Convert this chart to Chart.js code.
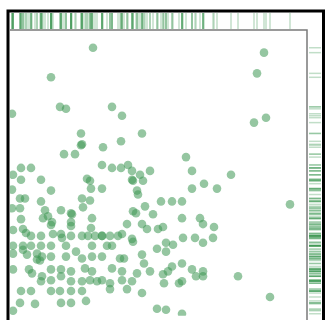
<!DOCTYPE html>
<html>
<head>
<meta charset="utf-8">
<script src="https://cdn.jsdelivr.net/npm/chart.js@4/dist/chart.umd.min.js"></script>
<style>
  html, body { margin: 0; padding: 0; background: #ffffff; overflow: hidden; }
  #c { display: block; }
</style>
</head>
<body>
<canvas id="c" width="328" height="320"></canvas>
<script>
// Sample positions (horizontal values)
const xValues = [
  83, 41, 50, 56, 2, 102, 112, 132, 71, 71, 72, 93, 111, 54, 65, 254, 247, 256, 244, 176,
  11, 21, 92, 102, 111, 118, 122, 130, 140, 3, 11, 31, 77, 80, 122, 123, 133, 2, 41, 81,
  92, 127, 128, 10, 15, 31, 72, 80, 73, 2, 10, 35, 51, 61, 62, 123, 126, 135, 143, 151,
  11, 33, 38, 42, 61, 82, 117, 132, 137, 148, 3, 13, 16, 41, 43, 51, 61, 61, 81, 92,
  21, 31, 52, 72, 78, 85, 92, 100, 108, 112, 122, 123, 3, 13, 21, 31, 41, 56, 82, 97,
  102, 147, 3, 13, 17, 27, 32, 27, 30, 41, 56, 66, 72, 82, 92, 110, 114, 132, 134, 3,
  19, 22, 32, 31, 41, 51, 51, 61, 75, 82, 87, 102, 112, 127, 140, 153, 41, 61, 72, 80,
  92, 100, 112, 122, 11, 21, 41, 50, 61, 72, 100, 117, 132, 10, 25, 51, 61, 76, 3, 147,
  182, 221, 194, 207, 172, 182, 162, 280, 172, 190, 193, 204, 153, 173, 185, 193, 203, 156, 163, 156,
  172, 162, 158, 182, 193, 186, 193, 228, 172, 169, 154, 260, 156, 172
];
// Sample positions (vertical values)
const yValues = [
  272, 242, 212, 210, 205, 212, 203, 185, 185, 173, 174, 171, 177, 164, 164, 267, 246, 201, 196, 161,
  150, 150, 153, 150, 150, 153, 147, 143, 147, 143, 138, 138, 139, 137, 138, 137, 137, 128, 127, 129,
  129, 127, 123, 119, 119, 116, 119, 117, 110, 109, 109, 107, 107, 104, 103, 106, 104, 111, 103, 116,
  98, 99, 101, 95, 95, 99, 93, 93, 88, 88, 87, 88, 84, 92, 83, 83, 91, 81, 89, 81,
  81, 81, 79, 81, 81, 81, 81, 81, 81, 83, 78, 75, 71, 71, 71, 71, 71, 71, 71, 71,
  71, 68, 63, 67, 62, 63, 60, 57, 56, 60, 60, 65, 58, 60, 60, 58, 58, 62, 53, 47,
  47, 43, 40, 35, 47, 47, 40, 45, 48, 45, 35, 48, 45, 43, 45, 42, 36, 35, 35, 36,
  36, 33, 36, 35, 25, 25, 25, 25, 25, 25, 27, 27, 23, 13, 12, 13, 13, 15, 5, 7,
  147, 143, 134, 129, 116, 129, 116, 113, 99, 99, 93, 90, 90, 79, 79, 74, 79, 74, 72, 65,
  53, 50, 45, 47, 45, 40, 40, 40, 35, 33, 33, 19, 6, 2
];

const pointColor = 'rgba(62, 152, 84, 0.55)';
const rugColor = 'rgba(62, 152, 84, 0.32)';

const points = xValues.map((x, i) => ({ x: x, y: yValues[i] }));

// Marginal rugs along the top and right edges plus the frame lines
const rugAndFrame = {
  id: 'rugAndFrame',
  afterDraw(chart) {
    const ctx = chart.ctx;
    const xs = chart.scales.x;
    const ys = chart.scales.y;
    const area = chart.chartArea;
    ctx.save();

    // top rug: one tick per horizontal value
    ctx.strokeStyle = rugColor;
    ctx.lineWidth = 1.5;
    xValues.forEach(v => {
      const px = xs.getPixelForValue(v);
      ctx.beginPath();
      ctx.moveTo(px, 13);
      ctx.lineTo(px, 29);
      ctx.stroke();
    });

    // right rug: one tick per vertical value
    yValues.forEach(v => {
      const py = ys.getPixelForValue(v);
      ctx.beginPath();
      ctx.moveTo(area.right + 2, py);
      ctx.lineTo(area.right + 14, py);
      ctx.stroke();
    });

    // inner plot border (top and right)
    ctx.strokeStyle = '#7a7a7a';
    ctx.lineWidth = 1.5;
    ctx.beginPath();
    ctx.moveTo(area.left, area.top);
    ctx.lineTo(area.right, area.top);
    ctx.lineTo(area.right, chart.height + 5);
    ctx.stroke();

    // outer frame
    ctx.strokeStyle = '#000000';
    ctx.lineWidth = 3;
    ctx.beginPath();
    ctx.moveTo(8, chart.height + 5);
    ctx.lineTo(8, 11);
    ctx.lineTo(323.5, 11);
    ctx.lineTo(323.5, chart.height + 5);
    ctx.stroke();

    ctx.restore();
  }
};

new Chart(document.getElementById('c'), {
  type: 'scatter',
  data: {
    datasets: [{
      data: points,
      backgroundColor: pointColor,
      borderWidth: 0,
      pointRadius: 4.3,
      pointHoverRadius: 4.3
    }]
  },
  options: {
    responsive: false,
    animation: false,
    devicePixelRatio: 1,
    layout: { padding: { left: 10, top: 30, right: 21, bottom: 0 } },
    plugins: { legend: { display: false }, tooltip: { enabled: false } },
    scales: {
      x: { type: 'linear', display: false, min: 0, max: 297 },
      y: { type: 'linear', display: false, min: 0, max: 290 }
    }
  },
  plugins: [rugAndFrame]
});
</script>
</body>
</html>
